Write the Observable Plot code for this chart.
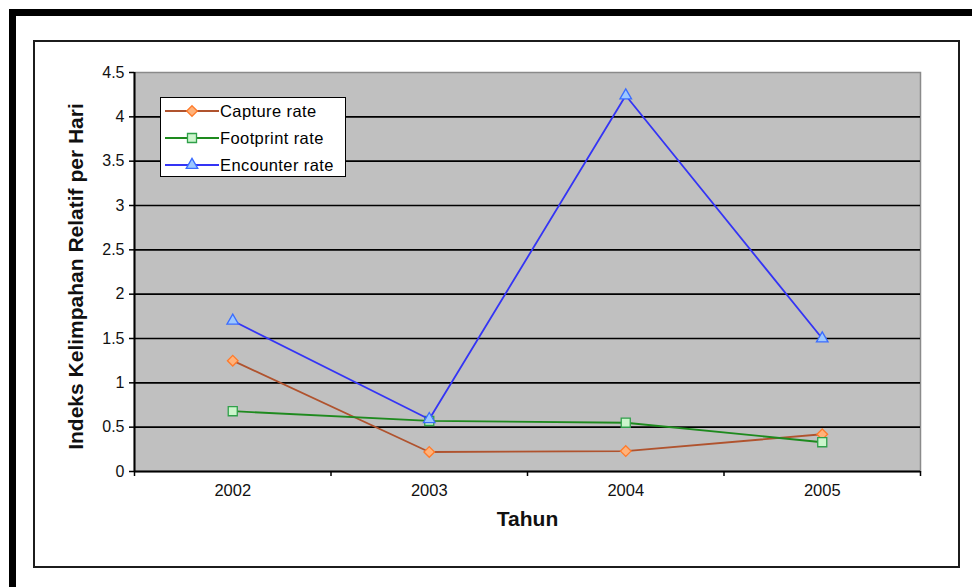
<!DOCTYPE html>
<html>
<head>
<meta charset="utf-8">
<script src="https://cdn.jsdelivr.net/npm/d3@7"></script>
<script src="https://cdn.jsdelivr.net/npm/@observablehq/plot@0.6"></script>
<style>
  html, body { margin: 0; padding: 0; background: #fff; }
  #page { position: relative; width: 972px; height: 587px; overflow: hidden; font-family: "Liberation Sans", Arial, sans-serif; }
  #outer { position: absolute; left: 9px; top: 9px; width: 1000px; height: 600px; border-top: 7px solid #000; border-left: 7px solid #000; }
  #inner { position: absolute; left: 33px; top: 40px; width: 927px; height: 528px; box-sizing: border-box; border: 2px solid #1c1c1c; }
  #chart { position: absolute; left: 0; top: 0; }
  #legend { position: absolute; left: 160px; top: 97px; width: 186px; height: 80px; box-sizing: border-box; border: 1.5px solid #000; background: #fff; }
  .row { position: absolute; left: 4px; height: 20px; display: flex; align-items: center; }
  .row span { font-size: 16.5px; letter-spacing: 0.4px; color: #000; margin-left: 1px; white-space: nowrap; }
</style>
</head>
<body>
<div id="page">
  <div id="outer"></div>
  <div id="inner"></div>
  <div id="chart"></div>
  <div id="legend"></div>
</div>
<script>
// Relative abundance indices per day, by year
const years = [2002, 2003, 2004, 2005];
const captureRate = [1.25, 0.22, 0.23, 0.42];
const footprintRate = [0.68, 0.57, 0.55, 0.33];
const encounterRate = [1.70, 0.59, 4.24, 1.50];

const seriesNames = ["Capture rate", "Footprint rate", "Encounter rate"];
const yTicks = [0, 0.5, 1, 1.5, 2, 2.5, 3, 3.5, 4, 4.5];
const gridValues = [0.5, 1, 1.5, 2, 2.5, 3, 3.5, 4];
const categoryEdges = [2001.5, 2002.5, 2003.5, 2004.5, 2005.5];

const yTitle = "Indeks Kelimpahan Relatif per Hari";
const xTitle = "Tahun";

// Per-series styling: line colour, marker symbol, marker fill/stroke, marker radius
const styles = [
  {line: "#b0532e", symbol: "diamond2", fill: "#ffb27a", stroke: "#ff7a2a", r: 4.8},
  {line: "#1e8a1e", symbol: "square", fill: "#ccf5cc", stroke: "#2fa04a", r: 5.1},
  {line: "#3434f5", symbol: "triangle", fill: "#9cc8ff", stroke: "#3a6cff", r: 4.3}
];

const seriesValues = [captureRate, footprintRate, encounterRate];
const rows = seriesValues.map((vals, i) =>
  years.map((year, j) => ({series: seriesNames[i], year, value: vals[j]}))
);

const seriesMarks = rows.flatMap((data, i) => {
  const s = styles[i];
  return [
    Plot.line(data, {x: "year", y: "value", stroke: s.line, strokeWidth: 1.8}),
    Plot.dot(data, {x: "year", y: "value", symbol: () => s.symbol, r: s.r, fill: s.fill, stroke: s.stroke, strokeWidth: 1.3})
  ];
});

const chart = Plot.plot({
  width: 972,
  height: 587,
  marginTop: 72,
  marginBottom: 116,
  marginLeft: 134,
  marginRight: 52,
  style: {fontFamily: "'Liberation Sans', Arial, sans-serif", background: "transparent", overflow: "visible"},
  x: {domain: [2001.5, 2005.5]},
  y: {domain: [0, 4.5]},
  symbol: {type: "identity"},
  marks: [
    Plot.frame({fill: "#c0c0c0", stroke: "#8a8a8a", strokeWidth: 1.5}),
    Plot.ruleY(gridValues, {stroke: "#000", strokeWidth: 1.7}),
    Plot.ruleY([0], {stroke: "#000", strokeWidth: 2}),
    Plot.ruleX([2001.5], {stroke: "#000", strokeWidth: 2}),
    Plot.axisY({ticks: yTicks, tickSize: 5, tickPadding: 5, tickFormat: (d) => String(d), label: null,
      stroke: "#000", strokeWidth: 1.5, fill: "#111", fontSize: 16}),
    Plot.axisX({ticks: categoryEdges, tickSize: 5, tickFormat: () => "", label: null, stroke: "#000", strokeWidth: 1.5}),
    Plot.axisX({ticks: years, tickSize: 0, tickPadding: 13, tickFormat: (d) => String(d), label: null,
      fill: "#111", fontSize: 16.5}),
    ...seriesMarks,
    Plot.text([yTitle], {frameAnchor: "left", textAnchor: "middle", text: (d) => d, rotate: -90, dx: -58.5, dy: 4.5,
      fontSize: 21, fontWeight: "bold", fill: "#111"}),
    Plot.text([xTitle], {frameAnchor: "bottom", textAnchor: "middle", text: (d) => d, dy: 54,
      fontSize: 21, fontWeight: "bold", fill: "#111"})
  ]
});
document.getElementById("chart").appendChild(chart);

// Legend: line sample with the series marker, then the series name
const legend = document.getElementById("legend");
const rowTops = [3, 30, 57];
seriesNames.forEach((name, i) => {
  const s = styles[i];
  const row = document.createElement("div");
  row.className = "row";
  row.style.top = rowTops[i] + "px";
  const svg = d3.create("svg").attr("width", 54).attr("height", 20);
  svg.append("line").attr("x1", 0).attr("x2", 54).attr("y1", 10).attr("y2", 10)
    .attr("stroke", s.line).attr("stroke-width", 1.8);
  const sym = {diamond2: d3.symbolDiamond2, square: d3.symbolSquare, triangle: d3.symbolTriangle}[s.symbol];
  svg.append("path").attr("transform", "translate(27,10)")
    .attr("d", d3.symbol(sym, Math.PI * s.r * s.r)())
    .attr("fill", s.fill).attr("stroke", s.stroke).attr("stroke-width", 1.3);
  row.appendChild(svg.node());
  const label = document.createElement("span");
  label.textContent = name;
  row.appendChild(label);
  legend.appendChild(row);
});
</script>
</body>
</html>
